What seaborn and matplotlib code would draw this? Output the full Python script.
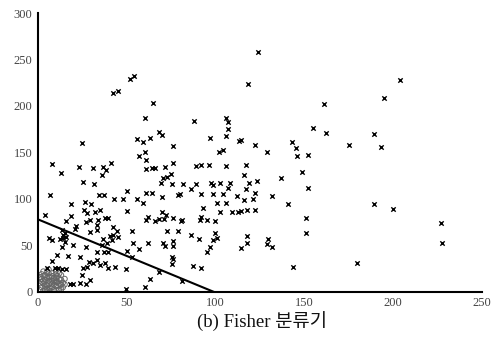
import numpy as np
import pandas as pd
import matplotlib
import matplotlib.pyplot as plt
import seaborn as sns

matplotlib.use('Agg')

sns.set_theme(style="white")
plt.rcParams['font.family'] = ['Liberation Serif', 'Noto Sans CJK KR']

# class 2 samples (x marks)
cls2 = [
	(124, 258), (52, 229), (54, 232), (42, 214), (45, 216), (65, 203), (60, 187), (88, 184),
	(25, 160), (56, 165), (59, 161), (63, 166), (68, 172), (70, 169), (76, 157), (97, 166),
	(104, 153), (107, 175), (106, 187), (107, 183), (106, 168), (113, 162), (118, 224), (204, 228),
	(195, 209), (161, 202), (155, 176), (162, 171), (189, 170), (193, 156), (175, 158), (122, 158),
	(129, 150), (143, 161), (145, 155), (146, 146), (152, 147), (57, 146), (60, 150), (61, 142),
	(102, 151), (114, 163),
	(8, 138), (13, 128), (23, 134), (25.5, 118), (31.5, 116), (31, 133), (36.5, 134), (38, 131),
	(36, 126), (41, 139), (7, 104), (34.5, 104), (37, 104), (43, 100), (48, 100), (55.5, 100),
	(59, 96), (50, 109), (61, 106), (64, 106), (70, 102), (80, 105), (75.6, 116), (69, 117),
	(70.5, 123), (72.5, 124), (75, 127), (61, 132), (64, 133), (66, 133), (71.5, 134), (76, 139),
	(89, 135), (92, 137), (96, 137), (106, 135), (117, 137), (116, 126), (119, 117), (123, 119),
	(117, 111), (116, 99), (121, 100), (122, 106), (137, 123), (148.6, 129), (152, 112), (132, 103),
	(141, 95), (81.6, 116), (89, 116), (97.4, 117), (98.5, 115), (102.5, 117), (108, 117), (107, 112),
	(98.5, 105), (92, 105), (104, 105), (86, 111), (79, 104), (112, 103), (101, 96), (106, 96),
	(4, 83), (18.5, 95), (16, 76), (18.5, 82), (26.5, 97), (30, 95), (26, 88), (27.6, 85),
	(32, 86), (35, 88), (27, 75), (29, 77), (34, 77), (37.7, 79), (39.6, 79), (33, 72),
	(21.4, 71), (21, 68), (29, 64), (33, 67), (50, 87), (93, 90), (92, 81), (91, 77),
	(95, 77), (99.6, 76), (99.6, 63), (101, 58), (98.6, 56), (109, 86), (112.6, 86), (117.7, 88),
	(122, 88), (114, 87), (102.5, 86), (151, 80), (151, 63), (189, 95), (200, 89), (227, 74),
	(227.5, 53), (117.7, 60), (117.7, 53), (129.5, 57), (129, 51), (132, 48), (114, 47), (80.5, 76),
	(70, 86), (72, 83), (71, 78), (68, 78), (76, 79), (61, 77), (62, 81), (66, 76),
	(81, 77), (72.6, 66), (79, 66), (86, 61), (90.7, 57), (53, 65), (62, 53), (70.4, 53),
	(71.5, 49), (76, 55), (76, 49), (42, 70), (44.5, 65), (42, 61), (45, 59), (40.5, 60),
	(36.6, 57), (41.7, 56), (38.9, 53), (6, 58), (8, 56), (12.4, 57), (14, 58), (15.8, 59),
	(15, 54), (13.5, 67), (15, 63), (14, 61), (53.5, 53), (19.7, 50), (13.5, 48), (36, 50),
	(27, 48),
	(97, 48), (95, 43), (57, 46), (50, 44), (53, 38), (75.5, 38), (76, 35), (75.5, 30),
	(87, 28), (92, 26), (81, 12), (68, 21), (63, 14), (60, 5), (49.5, 3), (143.6, 27),
	(179.6, 31), (49.5, 25), (33, 43), (37, 43), (39.4, 43), (23.6, 38), (28.7, 32), (31, 31),
	(35, 29), (33, 34), (37.7, 31), (39.4, 26), (43.4, 27), (25.3, 26), (27.6, 27), (25, 18),
	(23.6, 10), (27, 9), (29, 13), (10.7, 40), (17, 39), (7.9, 33), (5, 26), (9.6, 26),
	(11, 26), (13.5, 25), (16, 25), (18, 8), (19.7, 8),
]

# class 1 samples (small circles packed near the origin)
cls1 = [
	(1, 2), (2, 5), (3, 9), (4, 3), (5, 7), (6, 12), (7, 4), (8, 9), (9, 15), (10, 6),
	(11, 11), (12, 3), (13, 8), (2, 14), (4, 18), (6, 20), (8, 17), (10, 19), (12, 14), (3, 1),
	(5, 15), (7, 1), (9, 2), (11, 17), (13, 13), (14, 5), (1, 9), (3, 12), (6, 8), (8, 5),
	(10, 11), (12, 9), (5, 22), (7, 16), (9, 8), (1, 16), (4, 6), (11, 2), (13, 18), (2, 19),
	(6, 4), (14, 10), (8, 12), (10, 23), (3, 22), (2, 11), (4, 13), (6, 16), (8, 20), (9, 12),
	(11, 7), (12, 20), (13, 3), (15, 8), (15, 14), (7, 10), (5, 3), (3, 17), (10, 15), (6, 24),
]

# Fisher decision boundary
boundary_x = [0, 99]
boundary_y = [78, 0]

x_ticks = [0, 50, 100, 150, 200, 250]
y_ticks = [0, 50, 100, 150, 200, 250, 300]

df2 = pd.DataFrame(cls2, columns=["x", "y"])
df1 = pd.DataFrame(cls1, columns=["x", "y"])

fig = plt.figure(figsize=(4.97, 3.43), dpi=100)
ax = fig.add_axes([0.0765, 0.149, 0.8935, 0.813])

sns.scatterplot(data=df1, x="x", y="y", marker="o", s=14, facecolor="none",
				edgecolor="#666666", linewidth=0.7, ax=ax)
sns.scatterplot(data=df2, x="x", y="y", marker="x", s=10, color="black",
				linewidth=1.0, ax=ax)
sns.lineplot(x=boundary_x, y=boundary_y, color="black", linewidth=1.5, ax=ax)

ax.set_xlim(0, 250)
ax.set_ylim(0, 300)
ax.set_xticks(x_ticks)
ax.set_yticks(y_ticks)
ax.set_xlabel("")
ax.set_ylabel("")
for s in ["top", "right"]:
	ax.spines[s].set_visible(False)
for s in ["left", "bottom"]:
	ax.spines[s].set_color("black")
	ax.spines[s].set_linewidth(1.5)
ax.tick_params(direction="in", length=3, width=1, colors="black",
			   labelcolor="#444444", labelsize=9, pad=4)

fig.text(0.527, 0.06, "(b) Fisher 분류기", ha="center", va="center",
		 fontsize=13.5, color="#111111")

fig.savefig("out.png", dpi=100)
